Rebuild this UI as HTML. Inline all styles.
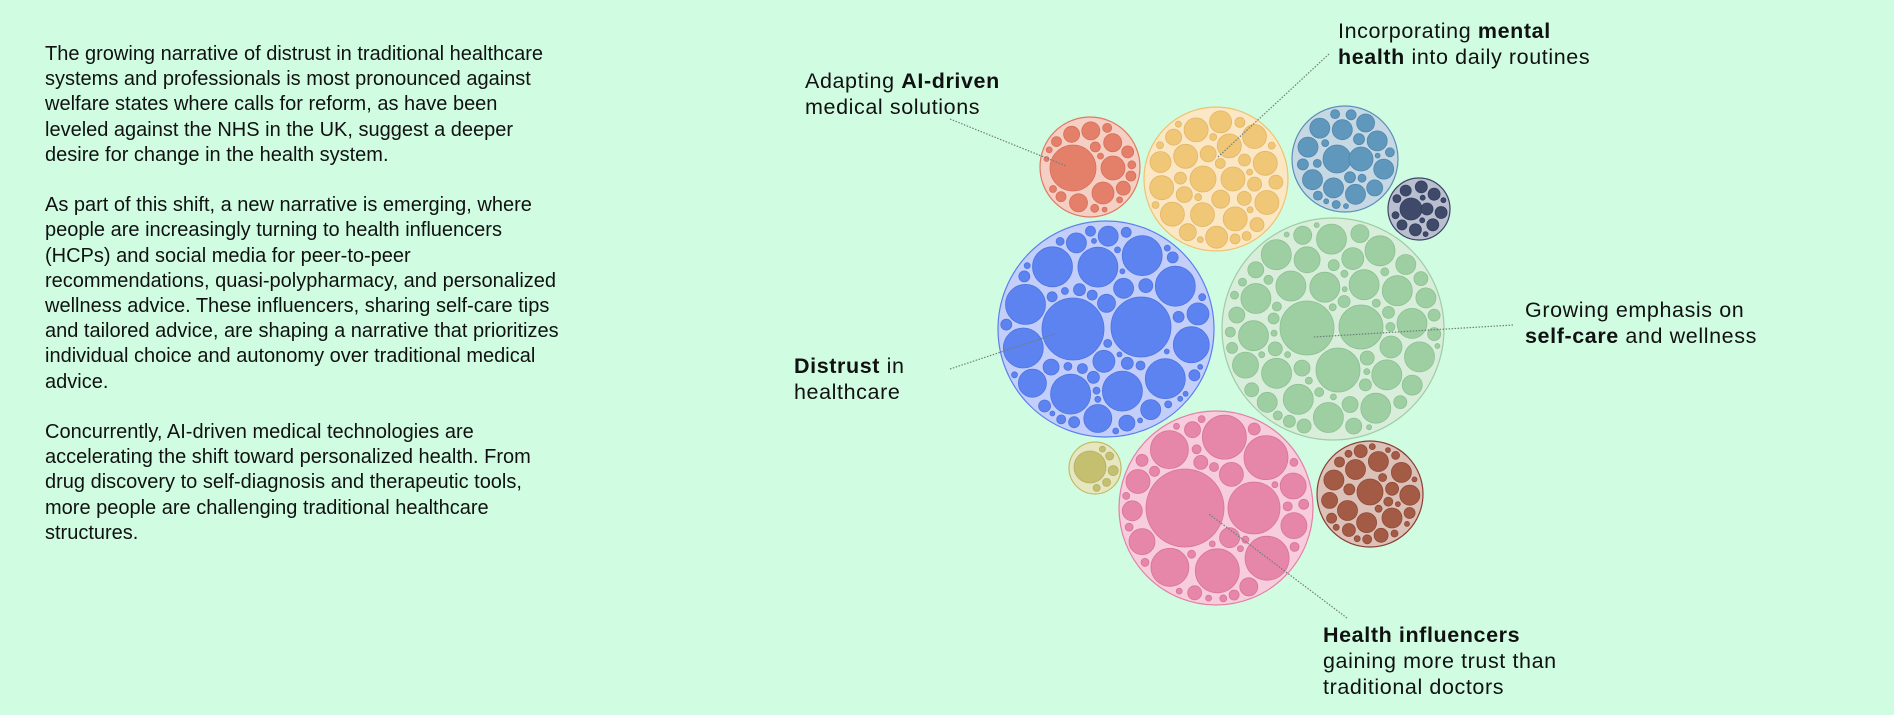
<!DOCTYPE html>
<html><head><meta charset="utf-8">
<style>
html,body{margin:0;padding:0;background:#d0fde2;}
body{width:1894px;height:715px;position:relative;overflow:hidden;font-family:"Liberation Sans",sans-serif;color:#111;}
.txt{position:absolute;left:45px;top:42px;font-size:20px;line-height:25.2px;letter-spacing:0px;white-space:nowrap;}
.txt p{margin:0 0 25.2px 0;}
.lab{position:absolute;font-size:21.5px;line-height:26px;white-space:nowrap;letter-spacing:0.6px;}
.lab b{font-weight:bold;}
svg{position:absolute;left:0;top:0;}
</style></head><body>
<div class="txt">
<p>The growing narrative of distrust in traditional healthcare<br>systems and professionals is most pronounced against<br>welfare states where calls for reform, as have been<br>leveled against the NHS in the UK, suggest a deeper<br>desire for change in the health system.</p>
<p>As part of this shift, a new narrative is emerging, where<br>people are increasingly turning to health influencers<br>(HCPs) and social media for peer-to-peer<br>recommendations, quasi-polypharmacy, and personalized<br>wellness advice. These influencers, sharing self-care tips<br>and tailored advice, are shaping a narrative that prioritizes<br>individual choice and autonomy over traditional medical<br>advice.</p>
<p>Concurrently, AI-driven medical technologies are<br>accelerating the shift toward personalized health. From<br>drug discovery to self-diagnosis and therapeutic tools,<br>more people are challenging traditional healthcare<br>structures.</p>
</div>
<svg id="s" width="1894" height="715" xmlns="http://www.w3.org/2000/svg"></svg>
<div class="lab" style="left:1338px;top:18px;">Incorporating <b>mental</b><br><b>health</b> into daily routines</div>
<div class="lab" style="left:805px;top:68px;">Adapting <b>AI-driven</b><br>medical solutions</div>
<div class="lab" style="left:794px;top:353px;"><b>Distrust</b> in<br>healthcare</div>
<div class="lab" style="left:1525px;top:297px;">Growing emphasis on<br><b>self-care</b> and wellness</div>
<div class="lab" style="left:1323px;top:622px;"><b>Health influencers</b><br>gaining more trust than<br>traditional doctors</div>
<script>
var s=document.getElementById('s'),NS='http://www.w3.org/2000/svg';
function c(x,y,r,f,st,sw){var e=document.createElementNS(NS,'circle');e.setAttribute('cx',x);e.setAttribute('cy',y);e.setAttribute('r',r);e.setAttribute('fill',f);e.setAttribute('stroke',st);e.setAttribute('stroke-width',sw);s.appendChild(e);}
var seed=7;function rnd(){seed=(seed*16807)%2147483647;return (seed-1)/2147483646;}
var P=[
 {x:1106,y:329,r:108,f:'#c3cffa',s:'#5a7ff0',i:'#5c83ef',is:'#4d74e0',big:[[-33,0,31],[35,-2,30]],lev:[20,18,16,14,13,12,11,10,9,8,7,6,5.5,5,4.5,4,3.5,3,2.5]},
 {x:1333,y:329,r:111,f:'#d8eedb',s:'#9fcca3',i:'#9ecfa2',is:'#8cc090',big:[[-26,-1,27],[28,-2,22],[5,41,22]],lev:[15,14,13,12,11,10,9,8,7,6.5,6,5.5,5,4.5,4,3.5,3,2.5]},
 {x:1216,y:508,r:97,f:'#f7cddd',s:'#e57fa5',i:'#e686a8',is:'#d87497',big:[[-31,0,39],[38,0,26]],lev:[22,19,17,15,13,12,11,10,9,8,7,6,5,4.5,4,3.5,3]},
 {x:1090,y:167,r:50,f:'#f6cfc4',s:'#df7a64',i:'#e4806a',is:'#d56f58',big:[[-17,1,23],[23,1,12],[13,26,11]],lev:[9,8,7,6,5,4.5,4,3.5,3,2.5]},
 {x:1216,y:179,r:72,f:'#fbe7c4',s:'#efc26f',i:'#f0c677',is:'#e2b667',big:[[-13,0,13],[17,0,12]],lev:[12,11.5,11,10.5,10,9.5,9,8.5,8,7,6,5.5,5,4.5,4,3.5,3]},
 {x:1345,y:159,r:53,f:'#c6d8e4',s:'#5b8fb8',i:'#5f97bd',is:'#4f86ac',big:[[-8,0,14],[16,0,12]],lev:[10,9,8,7,6.5,6,5.5,5,4.5,4,3.5,3,2.5]},
 {x:1419,y:209,r:31,f:'#babfcf',s:'#3b4565',i:'#3f4a6b',is:'#333d5b',big:[[-8,0,11],[8,0,6]],lev:[6,5.5,5,4.5,4,3.5,3,2.5]},
 {x:1095,y:468,r:26,f:'#e6e7c0',s:'#c0bc68',i:'#c5c070',is:'#b4af60',big:[[-5,-1,16]],lev:[5,4,3.5,3,2.5]},
 {x:1370,y:494,r:53,f:'#dcc1b9',s:'#8b3f30',i:'#a45b46',is:'#8f4a37',big:[[0,-2,13]],lev:[10,9,8,7,6.5,6,5.5,5,4.5,4,3.5,3,2.5]}
];
P.forEach(function(p){
 c(p.x,p.y,p.r,p.f,p.s,1.2);
 var L=[];p.big.forEach(function(b){L.push([p.x+b[0],p.y+b[1],b[2]]);});
 p.lev.forEach(function(r){
  for(var t=0;t<2500;t++){
   var a=rnd()*6.2832,d=Math.sqrt(rnd())*(p.r-r-2.5);
   var x=p.x+Math.cos(a)*d,y=p.y+Math.sin(a)*d,ok=true;
   for(var k=0;k<L.length;k++){var q=L[k];var dx=x-q[0],dy=y-q[1];if(Math.sqrt(dx*dx+dy*dy)<r+q[2]+2.2){ok=false;break;}}
   if(ok)L.push([x,y,r]);
  }
 });
 L.forEach(function(q){c(q[0].toFixed(1),q[1].toFixed(1),q[2],p.i,p.is,0.8);});
});
function ln(x1,y1,x2,y2){var e=document.createElementNS(NS,'line');e.setAttribute('x1',x1);e.setAttribute('y1',y1);e.setAttribute('x2',x2);e.setAttribute('y2',y2);e.setAttribute('stroke','#6f7f78');e.setAttribute('stroke-width','1.2');e.setAttribute('stroke-dasharray','1.5 1.5');s.appendChild(e);}
ln(1329,54,1218,157);ln(950,119,1066,166);ln(950,369,1058,333);ln(1513,325,1314,337);ln(1347,618,1209,514);
</script>
</body></html>
